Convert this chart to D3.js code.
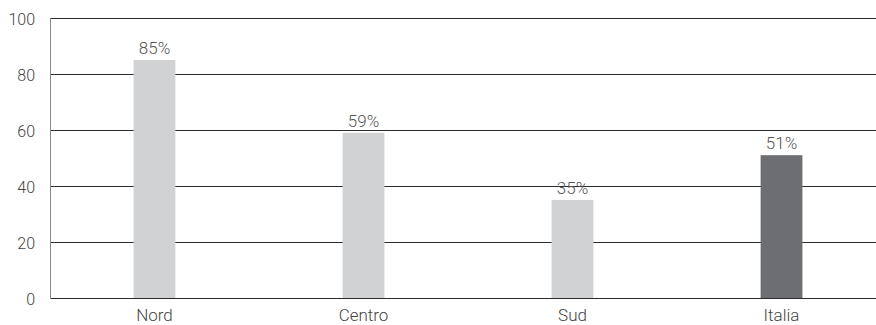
<!DOCTYPE html>
<html>
<head>
<meta charset="utf-8">
<script src="https://cdn.jsdelivr.net/npm/d3@7"></script>
<style>
  html, body { margin: 0; padding: 0; background: #fff; }
  svg text { font-family: Roboto, "Noto Sans", sans-serif; font-weight: 300; }
</style>
</head>
<body>
<svg id="chart" width="876" height="325"></svg>
<script>
const categories = ["Nord", "Centro", "Sud", "Italia"];
const values = [85, 59, 35, 51];
const yTicks = [0, 20, 40, 60, 80, 100];

const svg = d3.select("#chart");
const plotLeft = 50, plotRight = 886, plotTop = 18, plotBottom = 298;

const x = d3.scaleBand().domain(categories).range([plotLeft, plotRight]).paddingInner(0.8).paddingOuter(0.4);
const y = d3.scaleLinear().domain([0, 100]).range([plotBottom, plotTop]);

// horizontal gridlines
svg.append("g")
  .selectAll("line")
  .data(yTicks)
  .join("line")
  .attr("x1", plotLeft).attr("x2", 876)
  .attr("y1", d => Math.round(y(d)) + 0.5).attr("y2", d => Math.round(y(d)) + 0.5)
  .attr("stroke", "#2b2b2b").attr("stroke-width", 1);

// y axis line
svg.append("line")
  .attr("x1", plotLeft + 0.5).attr("x2", plotLeft + 0.5)
  .attr("y1", y(100)).attr("y2", y(0) + 1)
  .attr("stroke", "#8a8a8a").attr("stroke-width", 1);

// y tick labels
svg.append("g")
  .selectAll("text")
  .data(yTicks)
  .join("text")
  .attr("x", 35).attr("y", d => y(d) + 7)
  .attr("text-anchor", "end")
  .attr("font-size", 16)
  .attr("fill", "#444")
  .text(d => d);

// bars
svg.append("g")
  .selectAll("rect")
  .data(values)
  .join("rect")
  .attr("x", (d, i) => x(categories[i]))
  .attr("width", x.bandwidth())
  .attr("y", d => y(d))
  .attr("height", d => y(0) - y(d))
  .attr("fill", (d, i) => categories[i] === "Italia" ? "#6d6e71" : "#d1d2d4");

// value labels
svg.append("g")
  .selectAll("text")
  .data(values)
  .join("text")
  .attr("x", (d, i) => x(categories[i]) + x.bandwidth() / 2)
  .attr("y", d => y(d) - 6)
  .attr("text-anchor", "middle")
  .attr("font-size", 17)
  .attr("fill", "#555")
  .text(d => d + "%");

// category labels
svg.append("g")
  .selectAll("text")
  .data(categories)
  .join("text")
  .attr("x", d => x(d) + x.bandwidth() / 2)
  .attr("y", 321)
  .attr("text-anchor", "middle")
  .attr("font-size", 17)
  .attr("fill", "#444")
  .text(d => d);
</script>
</body>
</html>
